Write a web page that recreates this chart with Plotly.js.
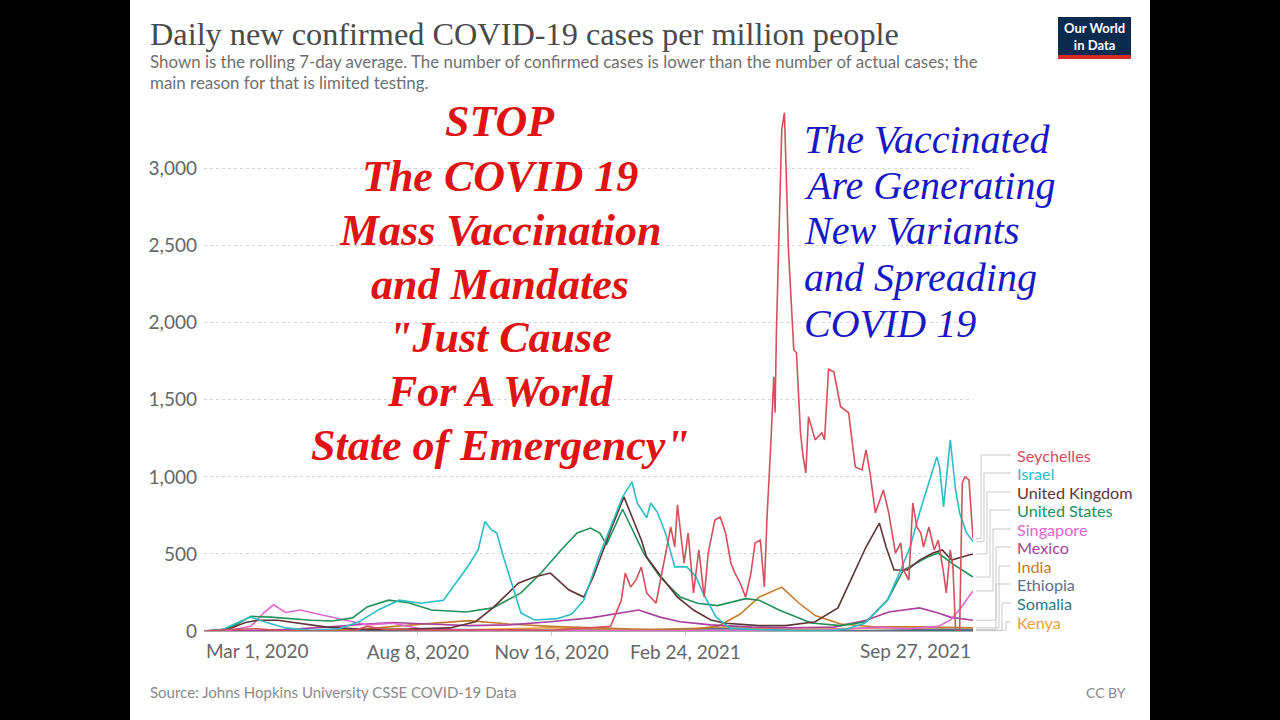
<!DOCTYPE html>
<html><head><meta charset="utf-8">
<script src="https://cdn.plot.ly/plotly-3.0.1.min.js"></script>
<style>
html,body{margin:0;padding:0;background:#000;width:1280px;height:720px;overflow:hidden}
#chart{position:absolute;left:130px;top:0;width:1020px;height:720px;background:#fff}
</style>
</head><body><div id="chart"></div>
<script>
// ---------- DATA ----------
const countries = ["Seychelles","Israel","United Kingdom","United States","Singapore","Mexico","India","Ethiopia","Somalia","Kenya"];
const colors = ["#d4505e","#2ebcc4","#5e3436","#22905a","#e066d0","#a8409c","#c47a2c","#5f6f88","#2a7a7e","#e8a040"];

const seychellesDates = ["2020-03-01","2020-03-20","2020-04-10","2020-05-01","2020-06-20","2020-07-01","2020-07-15","2020-08-15","2020-10-01","2020-11-15","2020-12-15","2020-12-30","2021-01-07","2021-01-10","2021-01-14","2021-01-18","2021-01-22","2021-01-26","2021-02-02","2021-02-05","2021-02-10","2021-02-13","2021-02-16","2021-02-18","2021-02-23","2021-02-26","2021-03-02","2021-03-06","2021-03-10","2021-03-13","2021-03-18","2021-03-22","2021-03-26","2021-03-30","2021-04-02","2021-04-06","2021-04-10","2021-04-14","2021-04-17","2021-04-21","2021-04-24","2021-04-26","2021-04-29","2021-05-01","2021-05-02","2021-05-03","2021-05-07","2021-05-09","2021-05-12","2021-05-16","2021-05-18","2021-05-21","2021-05-23","2021-05-25","2021-05-27","2021-05-30","2021-06-01","2021-06-06","2021-06-08","2021-06-11","2021-06-15","2021-06-20","2021-06-26","2021-07-01","2021-07-06","2021-07-09","2021-07-12","2021-07-16","2021-07-22","2021-07-26","2021-07-31","2021-08-04","2021-08-06","2021-08-10","2021-08-13","2021-08-16","2021-08-19","2021-08-21","2021-08-25","2021-08-29","2021-09-01","2021-09-05","2021-09-07","2021-09-10","2021-09-12","2021-09-14","2021-09-17","2021-09-19","2021-09-21","2021-09-24","2021-09-27"];
const seychellesValues = [0,10,15,0,0,30,10,5,8,5,20,30,200,376,286,330,415,247,180,310,526,675,545,818,440,636,247,526,220,506,720,740,636,440,376,310,220,376,571,590,286,740,1240,1650,1416,1935,3253,3364,2474,1825,1805,1286,1130,1026,1390,1305,1240,1286,1240,1700,1680,1455,1416,1065,1045,1175,1026,766,915,766,506,571,396,330,830,675,636,545,675,526,590,376,247,526,415,0,0,960,1000,980,600];

const israelDates = ["2020-03-01","2020-03-15","2020-03-25","2020-04-05","2020-04-15","2020-05-01","2020-05-20","2020-06-10","2020-06-25","2020-07-10","2020-07-25","2020-08-10","2020-08-27","2020-09-05","2020-09-14","2020-09-22","2020-09-27","2020-10-02","2020-10-06","2020-10-10","2020-10-18","2020-10-24","2020-11-03","2020-11-20","2020-12-01","2020-12-10","2020-12-22","2020-12-31","2021-01-08","2021-01-15","2021-01-19","2021-01-26","2021-01-29","2021-02-03","2021-02-09","2021-02-16","2021-02-25","2021-03-04","2021-03-09","2021-03-19","2021-03-29","2021-04-15","2021-05-15","2021-06-15","2021-06-25","2021-07-08","2021-07-25","2021-08-03","2021-08-11","2021-08-18","2021-08-25","2021-08-31","2021-09-02","2021-09-05","2021-09-10","2021-09-14","2021-09-17","2021-09-22","2021-09-27"];
const israelValues = [0,10,50,90,60,20,5,15,60,140,200,180,200,310,415,526,710,656,636,506,286,117,71,80,110,200,500,700,870,968,830,735,830,770,636,416,416,350,247,90,20,10,3,3,15,50,200,376,545,766,960,1130,1065,805,1240,915,766,640,580];

const ukDates = ["2020-03-01","2020-03-20","2020-04-01","2020-04-10","2020-04-25","2020-05-10","2020-06-01","2020-07-01","2020-08-01","2020-09-01","2020-09-20","2020-10-03","2020-10-22","2020-11-03","2020-11-15","2020-11-29","2020-12-10","2020-12-17","2020-12-31","2021-01-09","2021-01-22","2021-01-26","2021-02-06","2021-02-18","2021-03-02","2021-03-15","2021-03-26","2021-04-20","2021-05-10","2021-06-01","2021-06-18","2021-06-30","2021-07-09","2021-07-19","2021-07-24","2021-07-30","2021-08-09","2021-08-18","2021-08-28","2021-09-04","2021-09-11","2021-09-24","2021-09-27"];
const ukValues = [0,15,55,70,70,50,25,10,12,20,60,150,310,350,376,266,220,350,675,870,590,480,350,220,136,71,50,35,35,60,150,376,545,700,545,396,396,460,506,526,460,493,500];

const usDates = ["2020-03-01","2020-03-15","2020-03-25","2020-04-05","2020-04-20","2020-05-05","2020-05-20","2020-06-05","2020-06-20","2020-07-01","2020-07-17","2020-08-01","2020-08-18","2020-09-13","2020-10-03","2020-10-24","2020-11-08","2020-11-23","2020-12-05","2020-12-15","2020-12-22","2020-12-27","2021-01-08","2021-01-24","2021-02-05","2021-02-20","2021-03-05","2021-03-20","2021-04-10","2021-04-20","2021-05-05","2021-05-29","2021-06-20","2021-07-09","2021-07-25","2021-08-06","2021-08-24","2021-09-01","2021-09-11","2021-09-27"];
const usValues = [0,5,40,95,90,80,70,65,85,156,200,183,136,123,150,247,376,526,636,668,636,560,790,500,350,220,180,165,210,200,136,52,35,60,200,396,480,506,440,350];

const singaporeDates = ["2020-03-01","2020-03-20","2020-04-05","2020-04-15","2020-04-22","2020-05-01","2020-05-12","2020-06-01","2020-06-15","2020-07-01","2020-07-20","2020-08-10","2020-09-01","2020-10-01","2021-06-01","2021-07-20","2021-08-10","2021-09-01","2021-09-10","2021-09-17","2021-09-27"];
const singaporeValues = [0,5,30,120,170,120,136,95,70,40,50,15,8,1,3,25,15,30,70,140,260];

const mexicoDates = ["2020-03-01","2020-04-01","2020-05-01","2020-06-01","2020-07-01","2020-07-20","2020-08-15","2020-09-15","2020-10-15","2020-11-15","2020-12-15","2021-01-20","2021-02-05","2021-02-20","2021-03-15","2021-04-15","2021-05-15","2021-06-15","2021-07-09","2021-07-26","2021-08-18","2021-09-01","2021-09-10","2021-09-27"];
const mexicoValues = [0,1,10,25,45,55,45,35,40,60,85,136,90,60,40,25,20,25,70,123,150,117,90,70];

const indiaDates = ["2020-03-01","2020-05-01","2020-06-01","2020-07-01","2020-08-01","2020-09-15","2020-10-15","2020-11-15","2020-12-15","2021-01-15","2021-02-10","2021-03-01","2021-03-20","2021-04-06","2021-04-20","2021-05-07","2021-05-20","2021-06-01","2021-06-20","2021-07-15","2021-08-15","2021-09-27"];
const indiaValues = [0,1,5,14,38,67,45,30,20,12,9,12,30,110,220,285,180,100,45,28,27,20];

const ethiopiaDates = ["2020-03-01","2020-06-01","2020-08-20","2020-09-20","2020-11-10","2021-01-01","2021-03-20","2021-05-15","2021-07-01","2021-09-05","2021-09-27"];
const ethiopiaValues = [0,2,11,7,4,3,16,3,1,11,9];

const somaliaDates = ["2020-03-01","2020-05-01","2020-06-15","2021-02-01","2021-03-15","2021-05-01","2021-08-15","2021-09-27"];
const somaliaValues = [0,3,1,1,5,1,2,2];

const kenyaDates = ["2020-03-01","2020-06-01","2020-07-25","2020-09-01","2020-11-15","2021-01-10","2021-03-30","2021-05-15","2021-07-25","2021-09-27"];
const kenyaValues = [0,2,12,4,21,3,25,9,20,5];

const yTickVals = [0,500,1000,1500,2000,2500,3000];
const yTickText = ["0","500","1,000","1,500","2,000","2,500","3,000"];
const xTickVals = ["2020-08-08","2020-11-16","2021-02-24"];
const xTickText = ["Aug 8, 2020","Nov 16, 2020","Feb 24, 2021"];
const xStartLabel = "Mar 1, 2020", xEndLabel = "Sep 27, 2021";
const xStart = "2020-03-01", xEnd = "2021-09-27";

const redLines = ["STOP","The COVID 19","Mass Vaccination","and Mandates","\"Just Cause","For A World","State of Emergency\""];
const blueLines = ["The Vaccinated","Are Generating","New Variants","and Spreading","COVID 19"];

// ---------- LAYOUT HELPERS (page pixels -> paper) ----------
const PL=204, PR=973, PT=107, PB=631, YMAX=3400;
const fx = p => (p-PL)/(PR-PL);
const fy = p => (PB-p)/(PB-PT);

const seriesData = [
  [seychellesDates,seychellesValues],[israelDates,israelValues],[ukDates,ukValues],[usDates,usValues],
  [singaporeDates,singaporeValues],[mexicoDates,mexicoValues],[indiaDates,indiaValues],
  [ethiopiaDates,ethiopiaValues],[somaliaDates,somaliaValues],[kenyaDates,kenyaValues]
];

const drawOrder = [9,8,7,6,5,4,3,2,1,0];
const traces = drawOrder.map(i => ({
  type:"scatter", mode:"lines", name:countries[i],
  x:seriesData[i][0], y:seriesData[i][1],
  line:{color:colors[i], width:1.6}, hoverinfo:"skip"
}));

const annotations = [];
const shapes = [];
const sans = "Lato, 'Open Sans', sans-serif";

// title / subtitle
annotations.push({xref:"paper",yref:"paper",x:fx(148),y:fy(34),xanchor:"left",yanchor:"middle",showarrow:false,
  text:"Daily new confirmed COVID-19 cases per million people",font:{family:"'Liberation Serif', serif",size:32.3,color:"#4a4a4a"}});
annotations.push({xref:"paper",yref:"paper",x:fx(148),y:fy(61),xanchor:"left",yanchor:"middle",showarrow:false,
  text:"Shown is the rolling 7-day average. The number of confirmed cases is lower than the number of actual cases; the",font:{family:sans,size:16.9,color:"#707070"}});
annotations.push({xref:"paper",yref:"paper",x:fx(148),y:fy(82),xanchor:"left",yanchor:"middle",showarrow:false,
  text:"main reason for that is limited testing.",font:{family:sans,size:16.9,color:"#707070"}});

// logo
shapes.push({type:"rect",xref:"paper",yref:"paper",x0:fx(1058),x1:fx(1131),y0:fy(55),y1:fy(17),fillcolor:"#0d2a4f",line:{width:0},layer:"above"});
shapes.push({type:"rect",xref:"paper",yref:"paper",x0:fx(1058),x1:fx(1131),y0:fy(59),y1:fy(55),fillcolor:"#d42a20",line:{width:0},layer:"above"});
annotations.push({xref:"paper",yref:"paper",x:fx(1094.5),y:fy(36),xanchor:"center",yanchor:"middle",showarrow:false,
  text:"Our World<br>in Data",font:{family:sans,size:13,color:"#ffffff",weight:"bold"}});

// source / license
annotations.push({xref:"paper",yref:"paper",x:fx(148),y:fy(692),xanchor:"left",yanchor:"middle",showarrow:false,
  text:"Source: Johns Hopkins University CSSE COVID-19 Data",font:{family:sans,size:15,color:"#8a8a8a"}});
annotations.push({xref:"paper",yref:"paper",x:fx(1128),y:fy(692),xanchor:"right",yanchor:"middle",showarrow:false,
  text:"CC BY",font:{family:sans,size:14,color:"#8a8a8a"}});

// end-date labels of x axis
annotations.push({xref:"x",yref:"paper",x:xStart,y:fy(650),xanchor:"left",yanchor:"middle",showarrow:false,
  text:xStartLabel,font:{family:sans,size:19,color:"#666"}});
annotations.push({xref:"x",yref:"paper",x:xEnd,y:fy(650),xanchor:"right",yanchor:"middle",showarrow:false,
  text:xEndLabel,font:{family:sans,size:19,color:"#666"}});

// line labels with connectors
const labelY = [455,473,492,510,529,547,566,584,603,622];
const elbowX = [981,984,987,990,993,996,999,996,1002,1006];
countries.forEach((c,i) => {
  annotations.push({xref:"paper",yref:"paper",x:fx(1015),y:fy(labelY[i]),xanchor:"left",yanchor:"middle",showarrow:false,
    text:c,font:{family:sans,size:16.2,color:colors[i]}});
  const vals = seriesData[i][1];
  const endY = vals[vals.length-1]/YMAX;
  shapes.push({type:"path",xref:"paper",yref:"paper",layer:"above",
    path:`M ${fx(976)} ${endY} L ${fx(elbowX[i])} ${endY} L ${fx(elbowX[i])} ${fy(labelY[i])} L ${fx(1011)} ${fy(labelY[i])}`,
    line:{color:"#c9c9c9",width:1}});
});

// red overlay text
const redY = [122,177,230,284,337,391,445];
redLines.forEach((t,i) => annotations.push({xref:"paper",yref:"paper",x:fx(500),y:fy(redY[i]),xanchor:"center",yanchor:"middle",showarrow:false,
  text:t,font:{family:"'Liberation Serif', serif",size:44,color:"#e01212",weight:"bold",style:"italic"}}));
// blue overlay text
const blueY = [139,186,231,277,323];
blueLines.forEach((t,i) => annotations.push({xref:"paper",yref:"paper",x:fx(802),y:fy(blueY[i]),xanchor:"left",yanchor:"middle",showarrow:false,
  text:t,font:{family:"'Liberation Serif', serif",size:40,color:"#1818c4",style:"italic"}}));

const layout = {
  width:1020, height:720,
  margin:{l:PL-130, r:1150-PR, t:PT, b:720-PB, pad:0},
  paper_bgcolor:"#ffffff", plot_bgcolor:"#ffffff",
  showlegend:false,
  xaxis:{type:"date", range:[xStart,xEnd], tickvals:xTickVals, ticktext:xTickText,
    showgrid:false, zeroline:false, showline:true, linecolor:"#aaaaaa", linewidth:1,
    ticks:"outside", ticklen:4, tickcolor:"#cccccc",
    tickfont:{family:sans,size:19,color:"#666"}, fixedrange:true},
  yaxis:{range:[0,YMAX], tickvals:yTickVals, ticktext:yTickText,
    showgrid:true, gridcolor:"#d6d6d6", griddash:"dot", gridwidth:1,
    zeroline:false, showline:false, ticks:"", ticklabelstandoff:6,
    tickfont:{family:sans,size:19,color:"#666"}, fixedrange:true},
  annotations:annotations, shapes:shapes
};

Plotly.newPlot("chart", traces, layout, {displayModeBar:false, staticPlot:true});
</script></body></html>
